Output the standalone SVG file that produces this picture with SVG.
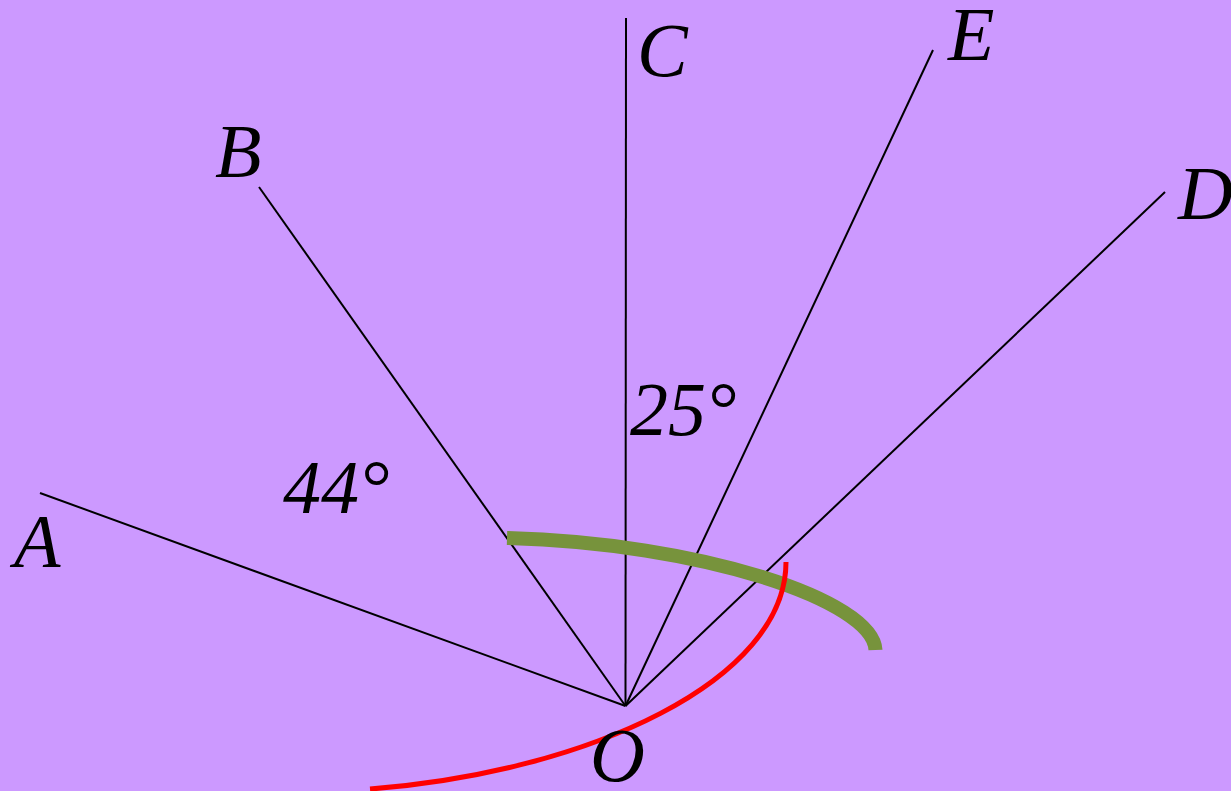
<svg xmlns="http://www.w3.org/2000/svg" width="1231" height="791" viewBox="0 0 1231 791">
<style>
.ray{stroke:#000;stroke-width:2;fill:none}
.lbl{font-family:"Liberation Serif","Times New Roman",serif;font-style:italic;font-size:76px;fill:#000}
</style>
<rect x="0" y="0" width="1231" height="791" fill="#CC99FF"/>
<g id="connectors">
<line class="ray" x1="625.5" y1="706" x2="40" y2="493"/>
<line class="ray" x1="625.5" y1="706" x2="259" y2="187"/>
<line class="ray" x1="625.5" y1="706" x2="626" y2="18"/>
<line class="ray" x1="625.5" y1="706" x2="933" y2="50"/>
<line class="ray" x1="625.5" y1="706" x2="1165" y2="192"/>
</g>
<g id="arcs">
<path d="M507,538 C700,543 873,600 875.5,650" fill="none" stroke="#77933C" stroke-width="14"/>
<path d="M786,562 C786,680 590,772 370,789" fill="none" stroke="#FF0000" stroke-width="5"/>
</g>
<g id="node-A"><text class="lbl" x="14" y="567">A</text></g>
<g id="node-B"><text class="lbl" x="215" y="177">B</text></g>
<g id="node-C"><text class="lbl" x="637" y="76">C</text></g>
<g id="node-E"><text class="lbl" x="948" y="60">E</text></g>
<g id="node-D"><text class="lbl" x="1178" y="219">D</text></g>
<g id="node-O"><text class="lbl" x="590" y="781">O</text></g>
<g id="angle-44"><text class="lbl" x="283" y="513">44°</text></g>
<g id="angle-25"><text class="lbl" x="630" y="435">25°</text></g>
</svg>
